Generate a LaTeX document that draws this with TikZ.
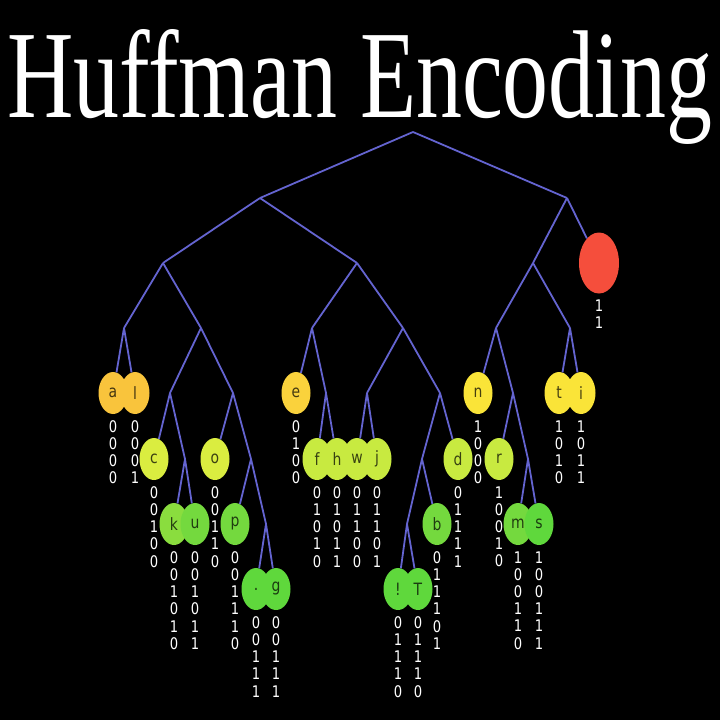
\documentclass[tikz,border=0pt]{standalone}
\usepackage{fontspec}
\usepackage{graphicx}
\usetikzlibrary{shapes.geometric}
\setmainfont{Liberation Serif}
\newfontfamily\labelfont[FakeStretch=0.82]{DejaVu Sans}

\definecolor{edgeblue}{RGB}{100,100,208}
\definecolor{cOrange}{RGB}{249,196,60}
\definecolor{cAmber}{RGB}{250,210,60}
\definecolor{cYellow}{RGB}{250,228,56}
\definecolor{cLimeA}{RGB}{218,237,64}
\definecolor{cLimeB}{RGB}{200,234,64}
\definecolor{cGreenA}{RGB}{138,221,62}
\definecolor{cGreenB}{RGB}{116,217,62}
\definecolor{cGreenC}{RGB}{95,216,60}
\definecolor{cRed}{RGB}{245,78,60}

\begin{document}
\begin{tikzpicture}[x=1pt,y=-1pt,
  edge/.style={draw=edgeblue,line width=1.8pt},
  leaf/.style={ellipse,minimum width=29pt,minimum height=42pt,inner sep=0pt,
    text=black,text opacity=0.72,font=\labelfont\fontsize{17}{17}\selectfont},
  bits/.style={anchor=north,inner sep=0pt,text=white,align=center,
    font=\labelfont\fontsize{16}{17.2}\selectfont},
]
% canvas
\fill[black] (0,0) rectangle (720,720);
\useasboundingbox (0,0) rectangle (720,720);

% heading
\node[anchor=base west,inner sep=0pt,text=white] (title) at (7,117)
  {\resizebox{705pt}{\height}{\fontsize{125}{125}\selectfont Huffman Encoding}};

% branching points of the tree
\coordinate (R) at (413,132);
\coordinate (n0) at (260,198);  \coordinate (n1) at (567,198);
\coordinate (n00) at (163,263); \coordinate (n01) at (357,263); \coordinate (n10) at (533,263);
\coordinate (n000) at (124,328); \coordinate (n001) at (201,328);
\coordinate (n010) at (312,328); \coordinate (n011) at (403,328);
\coordinate (n100) at (496,328); \coordinate (n101) at (570,328);
\coordinate (n0010) at (170,393); \coordinate (n0011) at (233,393);
\coordinate (n0101) at (326,393); \coordinate (n0110) at (367,393);
\coordinate (n0111) at (440,393); \coordinate (n1001) at (513,393);
\coordinate (n00101) at (185,459); \coordinate (n00111) at (251,459);
\coordinate (n01110) at (422,459); \coordinate (n10011) at (528,459);
\coordinate (n001111) at (266,524); \coordinate (n011100) at (407,524);

% leaves
\node[leaf,fill=cRed,minimum width=40pt,minimum height=61pt] (z) at (599,263) {};
\node[leaf,fill=cOrange] (a) at (113,393) {a};
\node[leaf,fill=cOrange] (l) at (135,393) {l};
\node[leaf,fill=cAmber] (e) at (296,393) {e};
\node[leaf,fill=cYellow] (n) at (478,393) {n};
\node[leaf,fill=cYellow] (t) at (559,393) {t};
\node[leaf,fill=cYellow] (i) at (581,393) {i};
\node[leaf,fill=cLimeA] (c) at (154,459) {c};
\node[leaf,fill=cLimeA] (o) at (215,459) {o};
\node[leaf,fill=cLimeB] (f) at (317,459) {f};
\node[leaf,fill=cLimeB] (h) at (337,459) {h};
\node[leaf,fill=cLimeB] (w) at (357,459) {w};
\node[leaf,fill=cLimeB] (j) at (377,459) {j};
\node[leaf,fill=cLimeB] (d) at (458,459) {d};
\node[leaf,fill=cLimeB] (r) at (499,459) {r};
\node[leaf,fill=cGreenA] (k) at (174,524) {k};
\node[leaf,fill=cGreenB] (u) at (195,524) {u};
\node[leaf,fill=cGreenB] (p) at (235,524) {p};
\node[leaf,fill=cGreenB] (b) at (437,524) {b};
\node[leaf,fill=cGreenB] (m) at (518,524) {m};
\node[leaf,fill=cGreenC] (s) at (539,524) {s};
\node[leaf,fill=cGreenC] (dot) at (256,589) {.};
\node[leaf,fill=cGreenC] (g) at (276,589) {g};
\node[leaf,fill=cGreenC] (ex) at (398,589) {!};
\node[leaf,fill=cGreenC] (T) at (418,589) {T};

% code words under the leaves
\node[bits] (bz) at ([yshift=-6pt]z.south) {1\\1};
\node[bits] (ba) at ([yshift=-6pt]a.south) {0\\0\\0\\0};
\node[bits] (bl) at ([yshift=-6pt]l.south) {0\\0\\0\\1};
\node[bits] (be) at ([yshift=-6pt]e.south) {0\\1\\0\\0};
\node[bits] (bn) at ([yshift=-6pt]n.south) {1\\0\\0\\0};
\node[bits] (bt) at ([yshift=-6pt]t.south) {1\\0\\1\\0};
\node[bits] (bi) at ([yshift=-6pt]i.south) {1\\0\\1\\1};
\node[bits] (bc) at ([yshift=-6pt]c.south) {0\\0\\1\\0\\0};
\node[bits] (bo) at ([yshift=-6pt]o.south) {0\\0\\1\\1\\0};
\node[bits] (bf) at ([yshift=-6pt]f.south) {0\\1\\0\\1\\0};
\node[bits] (bh) at ([yshift=-6pt]h.south) {0\\1\\0\\1\\1};
\node[bits] (bw) at ([yshift=-6pt]w.south) {0\\1\\1\\0\\0};
\node[bits] (bj) at ([yshift=-6pt]j.south) {0\\1\\1\\0\\1};
\node[bits] (bd) at ([yshift=-6pt]d.south) {0\\1\\1\\1\\1};
\node[bits] (br) at ([yshift=-6pt]r.south) {1\\0\\0\\1\\0};
\node[bits] (bk) at ([yshift=-6pt]k.south) {0\\0\\1\\0\\1\\0};
\node[bits] (bu) at ([yshift=-6pt]u.south) {0\\0\\1\\0\\1\\1};
\node[bits] (bp) at ([yshift=-6pt]p.south) {0\\0\\1\\1\\1\\0};
\node[bits] (bb) at ([yshift=-6pt]b.south) {0\\1\\1\\1\\0\\1};
\node[bits] (bm) at ([yshift=-6pt]m.south) {1\\0\\0\\1\\1\\0};
\node[bits] (bs) at ([yshift=-6pt]s.south) {1\\0\\0\\1\\1\\1};
\node[bits] (bdot) at ([yshift=-6pt]dot.south) {0\\0\\1\\1\\1};
\node[bits] (bg) at ([yshift=-6pt]g.south) {0\\0\\1\\1\\1};
\node[bits] (bex) at ([yshift=-6pt]ex.south) {0\\1\\1\\1\\0};
\node[bits] (bT) at ([yshift=-6pt]T.south) {0\\1\\1\\1\\0};

% branches
\draw[edge] (R) -- (n0);  \draw[edge] (R) -- (n1);
\draw[edge] (n0) -- (n00); \draw[edge] (n0) -- (n01);
\draw[edge] (n1) -- (n10); \draw[edge] (n1) -- (z);
\draw[edge] (n00) -- (n000); \draw[edge] (n00) -- (n001);
\draw[edge] (n01) -- (n010); \draw[edge] (n01) -- (n011);
\draw[edge] (n10) -- (n100); \draw[edge] (n10) -- (n101);
\draw[edge] (n000) -- (a); \draw[edge] (n000) -- (l);
\draw[edge] (n001) -- (n0010); \draw[edge] (n001) -- (n0011);
\draw[edge] (n010) -- (e); \draw[edge] (n010) -- (n0101);
\draw[edge] (n011) -- (n0110); \draw[edge] (n011) -- (n0111);
\draw[edge] (n100) -- (n); \draw[edge] (n100) -- (n1001);
\draw[edge] (n101) -- (t); \draw[edge] (n101) -- (i);
\draw[edge] (n0010) -- (c); \draw[edge] (n0010) -- (n00101);
\draw[edge] (n0011) -- (o); \draw[edge] (n0011) -- (n00111);
\draw[edge] (n0101) -- (f); \draw[edge] (n0101) -- (h);
\draw[edge] (n0110) -- (w); \draw[edge] (n0110) -- (j);
\draw[edge] (n0111) -- (n01110); \draw[edge] (n0111) -- (d);
\draw[edge] (n1001) -- (r); \draw[edge] (n1001) -- (n10011);
\draw[edge] (n00101) -- (k); \draw[edge] (n00101) -- (u);
\draw[edge] (n00111) -- (p); \draw[edge] (n00111) -- (n001111);
\draw[edge] (n01110) -- (n011100); \draw[edge] (n01110) -- (b);
\draw[edge] (n10011) -- (m); \draw[edge] (n10011) -- (s);
\draw[edge] (n001111) -- (dot); \draw[edge] (n001111) -- (g);
\draw[edge] (n011100) -- (ex); \draw[edge] (n011100) -- (T);
\end{tikzpicture}
\end{document}
